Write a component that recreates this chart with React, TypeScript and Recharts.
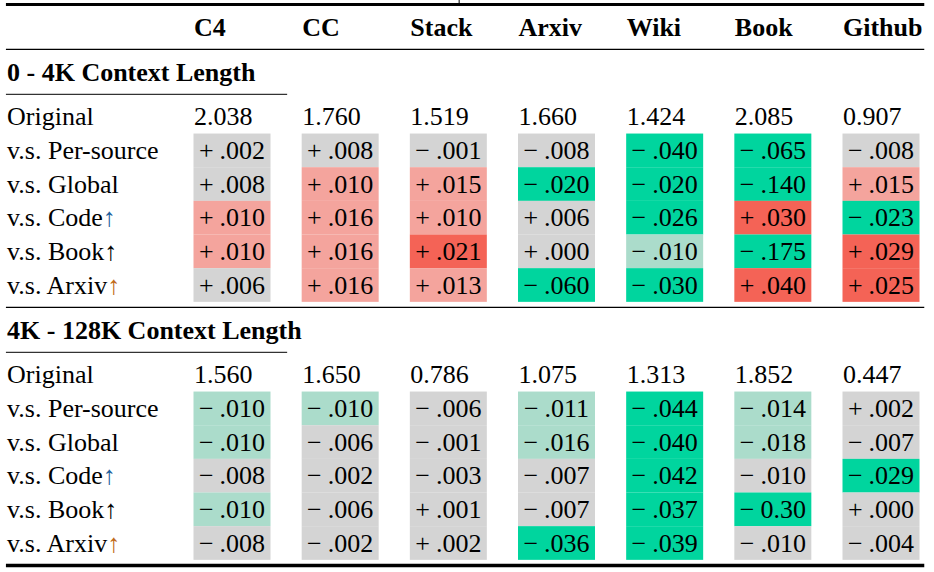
import React from "react";
import { ScatterChart, Scatter, XAxis, YAxis, ReferenceLine } from "recharts";

// ---------- data ----------
const COLUMNS = ["C4", "CC", "Stack", "Arxiv", "Wiki", "Book", "Github"];
const SECTIONS = ["0 - 4K Context Length", "4K - 128K Context Length"];
const BASELINE_LABEL = "Original";
const COMPARISONS = ["Per-source", "Global", "Code", "Book", "Arxiv"];
const UP_SUFFIX = [false, false, true, true, true];

const ORIGINAL_0_4K = [2.038, 1.76, 1.519, 1.66, 1.424, 2.085, 0.907];
const ORIGINAL_4K_128K = [1.56, 1.65, 0.786, 1.075, 1.313, 1.852, 0.447];

const DELTA_0_4K = [
  ["+.002", "+.008", "−.001", "−.008", "−.040", "−.065", "−.008"],
  ["+.008", "+.010", "+.015", "−.020", "−.020", "−.140", "+.015"],
  ["+.010", "+.016", "+.010", "+.006", "−.026", "+.030", "−.023"],
  ["+.010", "+.016", "+.021", "+.000", "−.010", "−.175", "+.029"],
  ["+.006", "+.016", "+.013", "−.060", "−.030", "+.040", "+.025"],
];
// significance level: -2 strong decrease, -1 mild decrease, 0 neutral, 1 mild increase, 2 strong increase
const LEVEL_0_4K = [
  [0, 0, 0, 0, -2, -2, 0],
  [0, 1, 1, -2, -2, -2, 1],
  [1, 1, 1, 0, -2, 2, -2],
  [1, 1, 2, 0, -1, -2, 2],
  [0, 1, 1, -2, -2, 2, 2],
];

const DELTA_4K_128K = [
  ["−.010", "−.010", "−.006", "−.011", "−.044", "−.014", "+.002"],
  ["−.010", "−.006", "−.001", "−.016", "−.040", "−.018", "−.007"],
  ["−.008", "−.002", "−.003", "−.007", "−.042", "−.010", "−.029"],
  ["−.010", "−.006", "+.001", "−.007", "−.037", "−0.30", "+.000"],
  ["−.008", "−.002", "+.002", "−.036", "−.039", "−.010", "−.004"],
];
const LEVEL_4K_128K = [
  [-1, -1, 0, -1, -2, -1, 0],
  [-1, 0, 0, -1, -2, -1, 0],
  [0, 0, 0, 0, -2, 0, -2],
  [-1, 0, 0, 0, -2, -2, 0],
  [0, 0, 0, -2, -2, 0, 0],
];

// ---------- styles ----------
const FONT = "'Liberation Serif', 'Times New Roman', Times, serif";
const FONT_SIZE = 26;
const LEVEL_COLORS: Record<string, string> = {
  "-2": "#00d59e",
  "-1": "#abdccb",
  "0": "#d4d4d4",
  "1": "#f4a49d",
  "2": "#f46356",
};
const ARROW_COLORS: Record<string, string> = {
  Code: "#1f5f9e",
  Book: "#000000",
  Arxiv: "#c06a1a",
};
const CELL_W = 77;
const CELL_H = 33.7;
const TEXT_DY = 8.7;

// ---------- layout (row slots) ----------
type Item = { x: number; y: number; kind: string; text: string; level?: number };
type RowLabel = { slot: number; text: string; bold: boolean; arrow?: string };

const items: Item[] = [];
const rowLabels: RowLabel[] = [];
const rules: { slot: number; width: number; short?: boolean }[] = [];

const HEADER_SLOT = 0;
COLUMNS.forEach((c, i) => items.push({ x: i, y: HEADER_SLOT, kind: "header", text: c }));
rules.push({ slot: HEADER_SLOT - 2, width: 3 });
rules.push({ slot: HEADER_SLOT + 2, width: 1.3 });

const sectionData = [
  { orig: ORIGINAL_0_4K, delta: DELTA_0_4K, level: LEVEL_0_4K },
  { orig: ORIGINAL_4K_128K, delta: DELTA_4K_128K, level: LEVEL_4K_128K },
];

let slot = HEADER_SLOT;
sectionData.forEach((sec, si) => {
  slot += 4;
  rowLabels.push({ slot, text: SECTIONS[si], bold: true });
  rules.push({ slot: slot + 2, width: 1, short: true });
  slot += 4;
  rowLabels.push({ slot, text: BASELINE_LABEL, bold: false });
  sec.orig.forEach((v, i) => items.push({ x: i, y: slot, kind: "orig", text: v.toFixed(3) }));
  COMPARISONS.forEach((name, ri) => {
    slot += 3;
    rowLabels.push({
      slot,
      text: "v.s. " + name,
      bold: false,
      arrow: UP_SUFFIX[ri] ? ARROW_COLORS[name] : undefined,
    });
    sec.delta[ri].forEach((d, i) =>
      items.push({ x: i, y: slot, kind: "cell", text: d, level: sec.level[ri][i] })
    );
  });
  rules.push({ slot: slot + 2, width: si === sectionData.length - 1 ? 3.5 : 1.3 });
});
const LAST_SLOT = slot;

const RULE_X0 = -2.09;
const RULE_X1 = 6.4;
const SHORT_RULE_X1 = 0.51;
const TOP_TICK_X = 2.1;

// ---------- renderers ----------
const CellShape = (props: any) => {
  const { cx, cy, payload } = props;
  if (cx == null || cy == null) return null;
  const p = payload as Item;
  if (p.kind === "header") {
    return (
      <text x={cx - 38} y={cy + TEXT_DY} fontFamily={FONT} fontSize={FONT_SIZE} fontWeight="bold" fill="#000">
        {p.text}
      </text>
    );
  }
  if (p.kind === "orig") {
    return (
      <text x={cx - 38} y={cy + TEXT_DY} fontFamily={FONT} fontSize={FONT_SIZE} fill="#000">
        {p.text}
      </text>
    );
  }
  const sign = p.text.charAt(0);
  const rest = p.text.slice(1);
  return (
    <g>
      <rect
        x={cx - CELL_W / 2}
        y={cy - CELL_H / 2}
        width={CELL_W}
        height={CELL_H}
        fill={LEVEL_COLORS[String(p.level)]}
      />
      <text x={cx} y={cy + TEXT_DY} textAnchor="middle" fontFamily={FONT} fontSize={FONT_SIZE} fill="#000">
        <tspan>{sign}</tspan>
        <tspan dx={6}>{rest}</tspan>
      </text>
    </g>
  );
};

const RowTick = (props: any) => {
  const { y, payload } = props;
  const lab = rowLabels.find((r) => r.slot === payload.value);
  if (!lab) return null;
  return (
    <text
      x={7}
      y={y + TEXT_DY}
      textAnchor="start"
      fontFamily={FONT}
      fontSize={FONT_SIZE}
      fontWeight={lab.bold ? "bold" : "normal"}
      fill="#000"
    >
      {lab.text}
      {lab.arrow ? <tspan fill={lab.arrow}>↑</tspan> : null}
    </text>
  );
};

export default function App() {
  return (
    <div style={{ position: "absolute", left: 0, top: 0, background: "#fff" }}>
      <ScatterChart
        width={934}
        height={572}
        margin={{ top: 27, right: 53, bottom: 29, left: 232 }}
      >
        <XAxis type="number" dataKey="x" domain={[0, COLUMNS.length - 1]} hide />
        <YAxis
          type="number"
          dataKey="y"
          domain={[HEADER_SLOT, LAST_SLOT]}
          reversed
          mirror
          axisLine={false}
          tickLine={false}
          ticks={rowLabels.map((r) => r.slot)}
          interval={0}
          tick={<RowTick />}
        />
        {rules.map((r, i) => (
          <ReferenceLine
            key={i}
            segment={[
              { x: RULE_X0, y: r.slot },
              { x: r.short ? SHORT_RULE_X1 : RULE_X1, y: r.slot },
            ]}
            stroke="#000"
            strokeWidth={r.width}
            ifOverflow="visible"
          />
        ))}
        <ReferenceLine
          segment={[
            { x: TOP_TICK_X, y: HEADER_SLOT - 2.5 },
            { x: TOP_TICK_X, y: HEADER_SLOT - 2 },
          ]}
          stroke="#000"
          strokeWidth={1}
          ifOverflow="visible"
        />
        <Scatter data={items} shape={<CellShape />} isAnimationActive={false} />
      </ScatterChart>
    </div>
  );
}
